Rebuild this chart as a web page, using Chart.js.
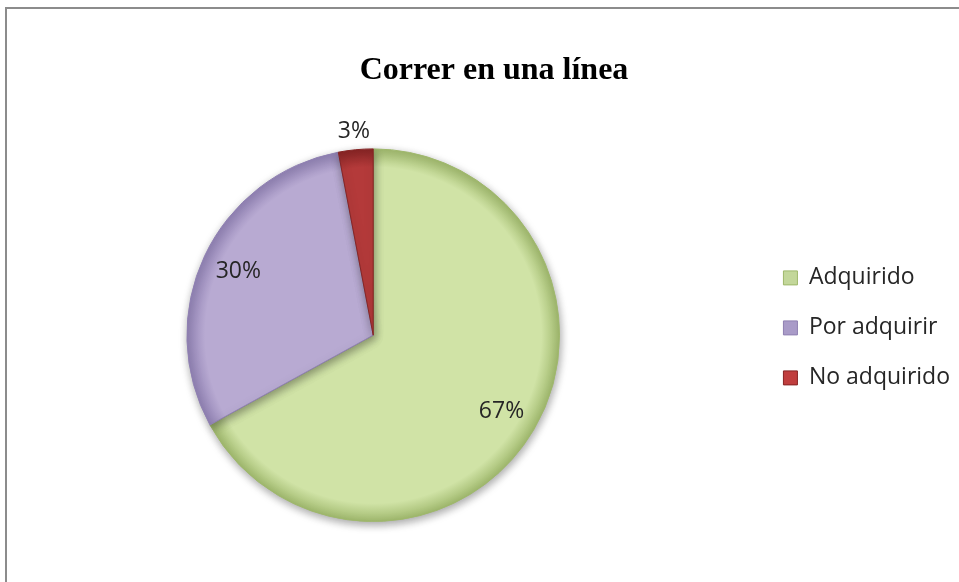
<!DOCTYPE html>
<html>
<head>
<meta charset="utf-8">
<script src="https://cdn.jsdelivr.net/npm/chart.js@4.4.1/dist/chart.umd.min.js"></script>
<style>
  html, body { margin: 0; padding: 0; background: #fff; overflow: hidden; }
  #frame { position: absolute; left: 5px; top: 7px; width: 1000px; height: 1000px;
           border-left: 2px solid #8c8c8c; border-top: 2px solid #8c8c8c; }
  #myChart { position: absolute; left: -20px; top: 0; }
</style>
</head>
<body>
<div id="frame"></div>
<canvas id="myChart" width="990" height="582"></canvas>
<script>
const titleText = 'Correr en una línea';
const categories = ['Adquirido', 'Por adquirir', 'No adquirido'];
const percentages = [67, 30, 3];
const fillColors = ['#d0e3a6', '#b8aad2', '#b43a3a'];
const rimColors = ['#9fb86c', '#8f80b2', '#862424'];
const legendColors = ['#c3d79a', '#a99bc8', '#c03e3e'];

// percentage labels, placed from the arc geometry
const sliceLabels = {
    id: 'sliceLabels',
    afterDatasetsDraw(chart) {
        const ctx = chart.ctx;
        const meta = chart.getDatasetMeta(0);
        ctx.save();
        ctx.font = '23px "Open Sans"';
        ctx.fillStyle = '#262626';
        ctx.textAlign = 'center';
        ctx.textBaseline = 'middle';
        meta.data.forEach((arc, i) => {
            const p = arc.getProps(['x', 'y', 'startAngle', 'endAngle', 'outerRadius'], true);
            const mid = (p.startAngle + p.endAngle) / 2;
            const f = percentages[i] < 5 ? 1.1 : 0.8;
            ctx.fillText(percentages[i] + '%', p.x + Math.cos(mid) * p.outerRadius * f, p.y + Math.sin(mid) * p.outerRadius * f);
        });
        ctx.restore();
    }
};

const pieShadow = {
    id: 'pieShadow',
    beforeDatasetsDraw(chart) {
        const c = chart.ctx;
        c.save();
        c.shadowColor = 'rgba(0,0,0,0.35)';
        c.shadowBlur = 8;
        c.shadowOffsetX = 1;
        c.shadowOffsetY = 3;
    },
    afterDatasetsDraw(chart) {
        chart.ctx.restore();
    }
};

// title sits centred on the whole frame, not on plot + legend
const titleShift = {
    id: 'titleShift',
    afterLayout(chart) {
        chart.titleBlock.left += 19;
        chart.titleBlock.right += 19;
    }
};

function sliceFill(ctx) {
    const i = ctx.dataIndex;
    const area = ctx.chart.chartArea;
    if (!area || !area.width) return fillColors[i];
    const cx = (area.left + area.right) / 2;
    const cy = (area.top + area.bottom) / 2;
    const r = Math.min(area.width, area.height) / 2;
    const g = ctx.chart.ctx.createRadialGradient(cx, cy, 0, cx, cy, r);
    g.addColorStop(0, fillColors[i]);
    g.addColorStop(0.9, fillColors[i]);
    g.addColorStop(1, rimColors[i]);
    return g;
}

new Chart(document.getElementById('myChart'), {
    type: 'pie',
    data: {
        labels: categories,
        datasets: [{
            data: percentages,
            backgroundColor: sliceFill,
            borderColor: rimColors,
            borderWidth: 1
        }]
    },
    options: {
        responsive: false,
        animation: false,
        layout: { padding: { top: 10, left: 10, right: 10, bottom: 60 } },
        plugins: {
            title: {
                display: true,
                text: titleText,
                color: '#000',
                font: { family: '"Liberation Serif"', size: 32, weight: 'bold', lineHeight: 1.2 },
                padding: { top: 42, bottom: 58 }
            },
            legend: {
                position: 'right',
                align: 'start',
                title: { display: true, text: ' ', padding: { top: 215, bottom: 0 } },
                labels: {
                    boxWidth: 14,
                    boxHeight: 14,
                    padding: 27,
                    color: '#262626',
                    font: { family: '"Open Sans"', size: 23 },
                    generateLabels: chart => Chart.overrides.pie.plugins.legend.labels.generateLabels(chart)
                        .map((l, i) => Object.assign(l, { fillStyle: legendColors[i], strokeStyle: rimColors[i], lineWidth: 1 }))
                }
            },
            tooltip: { enabled: false }
        }
    },
    plugins: [pieShadow, sliceLabels, titleShift]
});
</script>
</body>
</html>
